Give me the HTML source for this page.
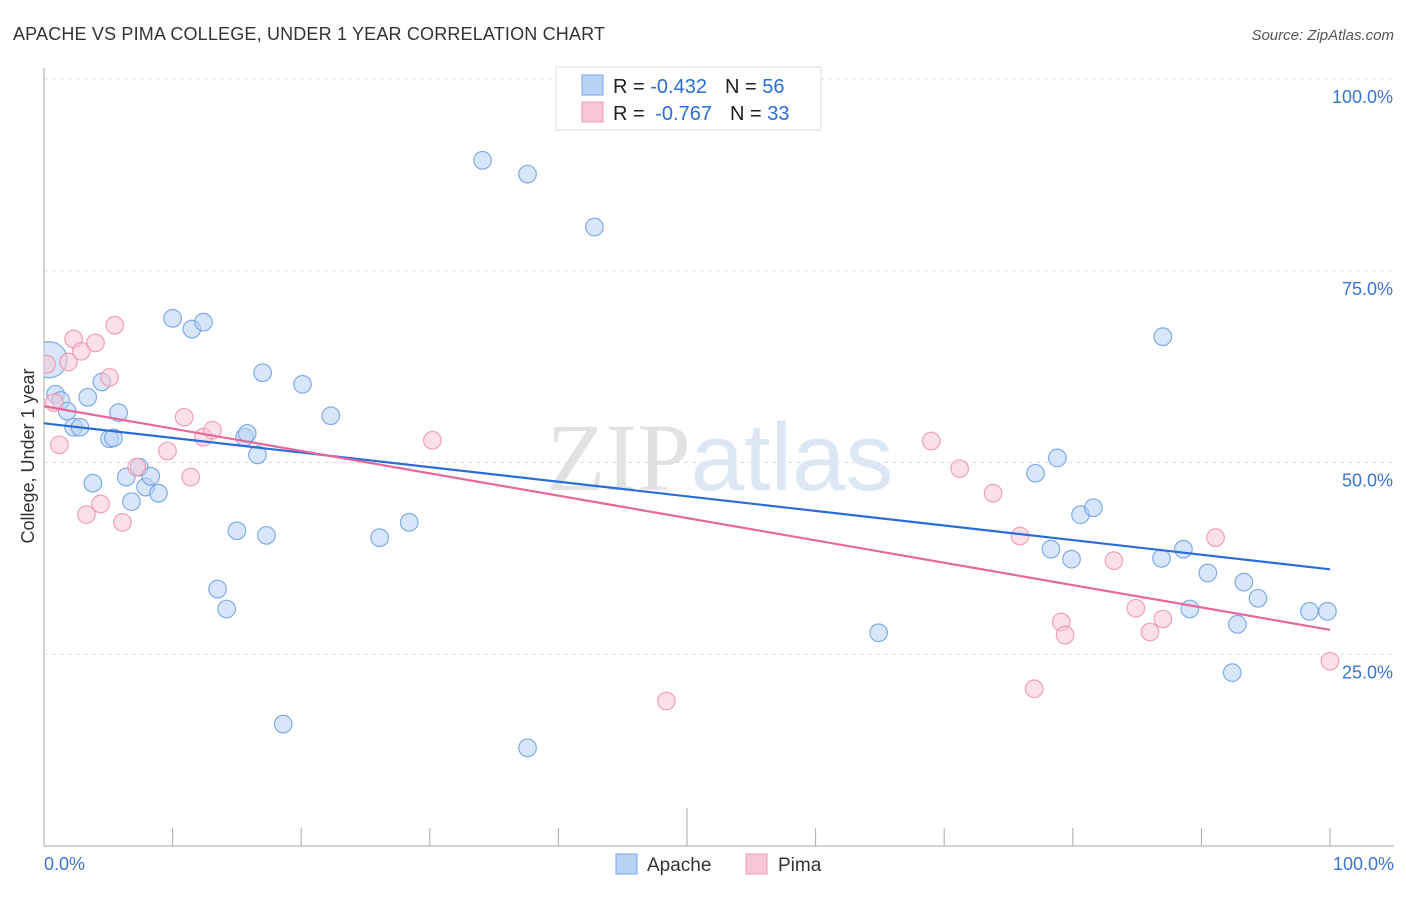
<!DOCTYPE html>
<html><head><meta charset="utf-8"><style>
body{margin:0;background:#fff;font-family:"Liberation Sans",sans-serif}
</style></head><body>
<svg id="chart" width="1406" height="892" xmlns="http://www.w3.org/2000/svg" font-family="Liberation Sans, sans-serif">
<text x="13" y="40" font-size="18" fill="#333" textLength="592">APACHE VS PIMA COLLEGE, UNDER 1 YEAR CORRELATION CHART</text>
<text x="1394" y="40" font-size="15" fill="#555" text-anchor="end" font-style="italic">Source: ZipAtlas.com</text>
<g id="grid"></g>
<text x="720" y="490" font-size="96" text-anchor="middle" fill="#eaeaee"><tspan font-family="Liberation Serif, serif" fill="#e2e2e2">ZIP</tspan><tspan fill="#dce7f6">atlas</tspan></text>
<text transform="translate(34,456) rotate(-90)" font-size="18" fill="#333" text-anchor="middle">College, Under 1 year</text>
<defs><clipPath id="pc"><rect x="44" y="60" width="1360" height="786"/></clipPath></defs>
<g id="pts" clip-path="url(#pc)"></g>
<g id="lines"></g>
<g>
<rect x="556" y="67" width="265" height="63" fill="#fff" stroke="#ddd"/>
<rect x="582" y="75" width="21" height="20" fill="#b8d1f5" stroke="#7aa6e6"/>
<rect x="582" y="102" width="21" height="20" fill="#f9c6d5" stroke="#ee98b3"/>
<text x="613" y="93" font-size="20" fill="#222">R = <tspan fill="#2a6dd9">-0.432</tspan><tspan dx="18">N = </tspan><tspan fill="#2a6dd9">56</tspan></text>
<text x="613" y="120" font-size="20" fill="#222">R = <tspan fill="#2a6dd9" dx="5">-0.767</tspan><tspan dx="18">N = </tspan><tspan fill="#2a6dd9">33</tspan></text>
</g>
<g>
<rect x="616" y="854" width="21" height="20" fill="#b8d1f5" stroke="#7aa6e6"/>
<text x="647" y="871" font-size="19" fill="#333">Apache</text>
<rect x="746" y="854" width="21" height="20" fill="#f9c6d5" stroke="#ee98b3"/>
<text x="778" y="871" font-size="19" fill="#333">Pima</text>
</g>
</svg>
<script>
const apacheX=[0.4,0.9,1.3,1.8,2.3,2.8,3.4,3.8,4.5,5.1,5.4,5.8,6.4,6.8,7.4,7.9,8.3,8.9,10.0,11.5,12.4,15.0,13.5,14.2,15.6,15.8,16.6,17.0,17.3,18.6,20.1,22.3,26.1,28.4,34.1,37.6,37.6,42.8,64.9,77.1,78.3,78.8,79.9,80.6,81.6,86.9,87.0,88.6,89.1,90.5,92.4,92.8,93.3,94.4,98.4,99.8];
const apacheY=[63.4,58.9,58.1,56.7,54.6,54.6,58.5,47.3,60.5,53.1,53.2,56.5,48.1,44.9,49.4,46.8,48.2,46.0,68.8,67.4,68.3,41.1,33.5,30.9,53.3,53.8,51.0,61.7,40.5,15.9,60.2,56.1,40.2,42.2,89.4,87.6,12.8,80.7,27.8,48.6,38.7,50.6,37.4,43.2,44.1,37.5,66.4,38.7,30.9,35.6,22.6,28.9,34.4,32.3,30.6,30.6];
const pimaX=[0.2,0.8,1.2,1.9,2.3,2.9,3.3,4.0,4.4,5.1,5.5,6.1,7.2,9.6,10.9,11.4,12.4,13.1,30.2,48.4,69.0,71.2,73.8,75.9,77.0,79.1,79.4,83.2,84.9,86.0,87.0,91.1,100];
const pimaY=[62.8,57.8,52.3,63.1,66.1,64.5,43.2,65.6,44.6,61.1,67.9,42.2,49.4,51.5,55.9,48.1,53.3,54.2,52.9,18.9,52.8,49.2,46.0,40.4,20.5,29.2,27.5,37.2,31.0,27.9,29.6,40.2,24.1];
const yTicks=[100,75,50,25];
const yTickLabels=["100.0%","75.0%","50.0%","25.0%"];
const xEdgeLabels=["0.0%","100.0%"];
const X=v=>44+v*12.86, Y=v=>846-v*7.67;
const NS="http://www.w3.org/2000/svg";
function mk(t,a,p){const e=document.createElementNS(NS,t);for(const k in a)e.setAttribute(k,a[k]);p.appendChild(e);return e;}
const grid=document.getElementById('grid');
yTicks.forEach((t,i)=>{
 const l=mk('line',{x1:44,x2:1394,y1:Y(t),y2:Y(t),stroke:'#ddd','stroke-dasharray':'4,4'},grid);
 
 
 const tx=mk('text',{x:1393,y:Y(t)+24,'font-size':18,fill:'#3b73d4','text-anchor':'end'},grid);
 tx.textContent=yTickLabels[i];
 
 
});
const ax=mk('line',{x1:44,x2:44,y1:68,y2:846,stroke:'#aaa'},grid);


const bx=mk('line',{x1:44,x2:1394,y1:846,y2:846,stroke:'#aaa'},grid);


for(let i=0;i<=10;i++){
 const t=mk('line',{x1:X(i*10),x2:X(i*10),y1:i==5?808:828,y2:846,stroke:'#aaa'},grid);
 
 
}
[[0,'start',44],[100,'end',1394]].forEach((d,i)=>{
 const t=mk('text',{x:d[2],y:870,'font-size':18,fill:'#3b73d4','text-anchor':d[1]},grid);
 t.textContent=xEdgeLabels[i];
 
 
});
const pts=document.getElementById('pts'), lines=document.getElementById('lines');
function series(xs,ys,fill,stroke,name,lc){
 xs.forEach((x,i)=>{
  const c=mk('circle',{cx:X(x),cy:Y(ys[i]),r:(name=='apache'&&i==0)?18:8.8,fill:fill,'fill-opacity':0.55,stroke:stroke,'stroke-opacity':0.85,'stroke-width':1.2},pts);
  
  
 });
 const n=xs.length;let mx=0,my=0;xs.forEach((x,i)=>{mx+=x;my+=ys[i]});mx/=n;my/=n;
 let sxy=0,sxx=0;xs.forEach((x,i)=>{sxy+=(x-mx)*(ys[i]-my);sxx+=(x-mx)*(x-mx)});
 const b=sxy/sxx,a=my-b*mx;
 const l=mk('line',{x1:X(0),y1:Y(a),x2:X(100),y2:Y(a+100*b),stroke:lc,'stroke-width':2.2},lines);
 
 
}
series(apacheX,apacheY,'#b8d1f5','#6f9fe3','apache','#2a6dd9');
series(pimaX,pimaY,'#f9c6d5','#ec93af','pima','#e8679a');
</script>
</body></html>
